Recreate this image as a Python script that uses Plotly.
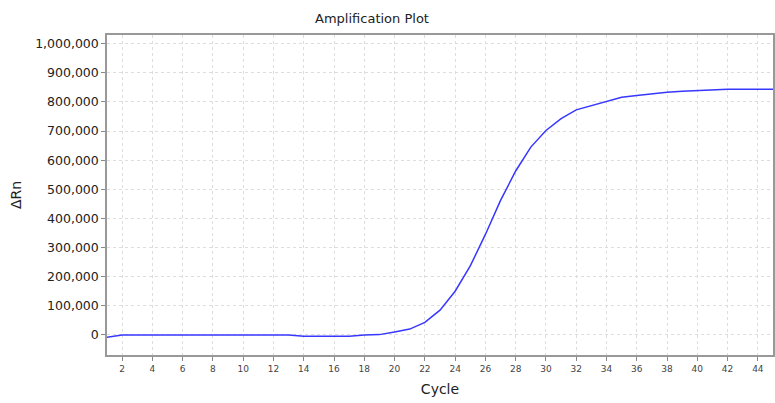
import plotly.graph_objects as go

cycles = list(range(1, 46))
delta_rn = [-8000, 0, 0, 0, 0, 0, 0, 0, 0, 0, 0, 0, 0, -5000, -5000, -5000, -5000, 0, 1000,
            10000, 20000, 43000, 85000, 150000, 237000, 345000, 462000, 563000, 645000, 702000,
            743000, 773000, 788000, 802000, 816000, 822000, 828000, 833000, 837000, 840000,
            841000, 844000, 844000, 844000, 844000]

x_ticks = list(range(2, 46, 2))
y_ticks = list(range(0, 1000001, 100000))

fig = go.Figure()
fig.add_trace(go.Scatter(x=cycles, y=delta_rn, mode="lines",
                         line=dict(color="rgb(55,55,255)", width=1.5), showlegend=False))

font_family = "DejaVu Sans, sans-serif"
fig.update_layout(
    width=775, height=403,
    margin=dict(l=107, r=0, t=35, b=48),
    paper_bgcolor="white", plot_bgcolor="white",
    font=dict(family=font_family, color="#222"),
    title=dict(text="Amplification Plot", x=0.48, xref="container", xanchor="center",
               y=0.955, yref="container", yanchor="middle",
               font=dict(size=13, color="#222", family=font_family)),
)
fig.update_xaxes(
    range=[1, 45], tickvals=x_ticks, ticks="outside", ticklen=4, tickcolor="#888",
    tickfont=dict(size=9, color="#444"),
    showline=True, linecolor="#999", linewidth=1.5, mirror=True,
    showgrid=True, gridcolor="#dddddd", griddash="3px,3px", gridwidth=1, zeroline=False,
    title=dict(text="Cycle", font=dict(size=14, color="#222"), standoff=12),
)
fig.update_yaxes(
    range=[-69000, 1030000], tickvals=y_ticks, tickformat=",", ticks="outside", ticklen=4,
    tickcolor="#888", tickfont=dict(size=12.5, color="#222"),
    showline=True, linecolor="#999", linewidth=1.5, mirror=True,
    showgrid=True, gridcolor="#dddddd", griddash="3px,3px", gridwidth=1, zeroline=False,
    title=dict(text="ΔRn", font=dict(size=14, color="#222"), standoff=10),
)
fig.write_html("out.html")
